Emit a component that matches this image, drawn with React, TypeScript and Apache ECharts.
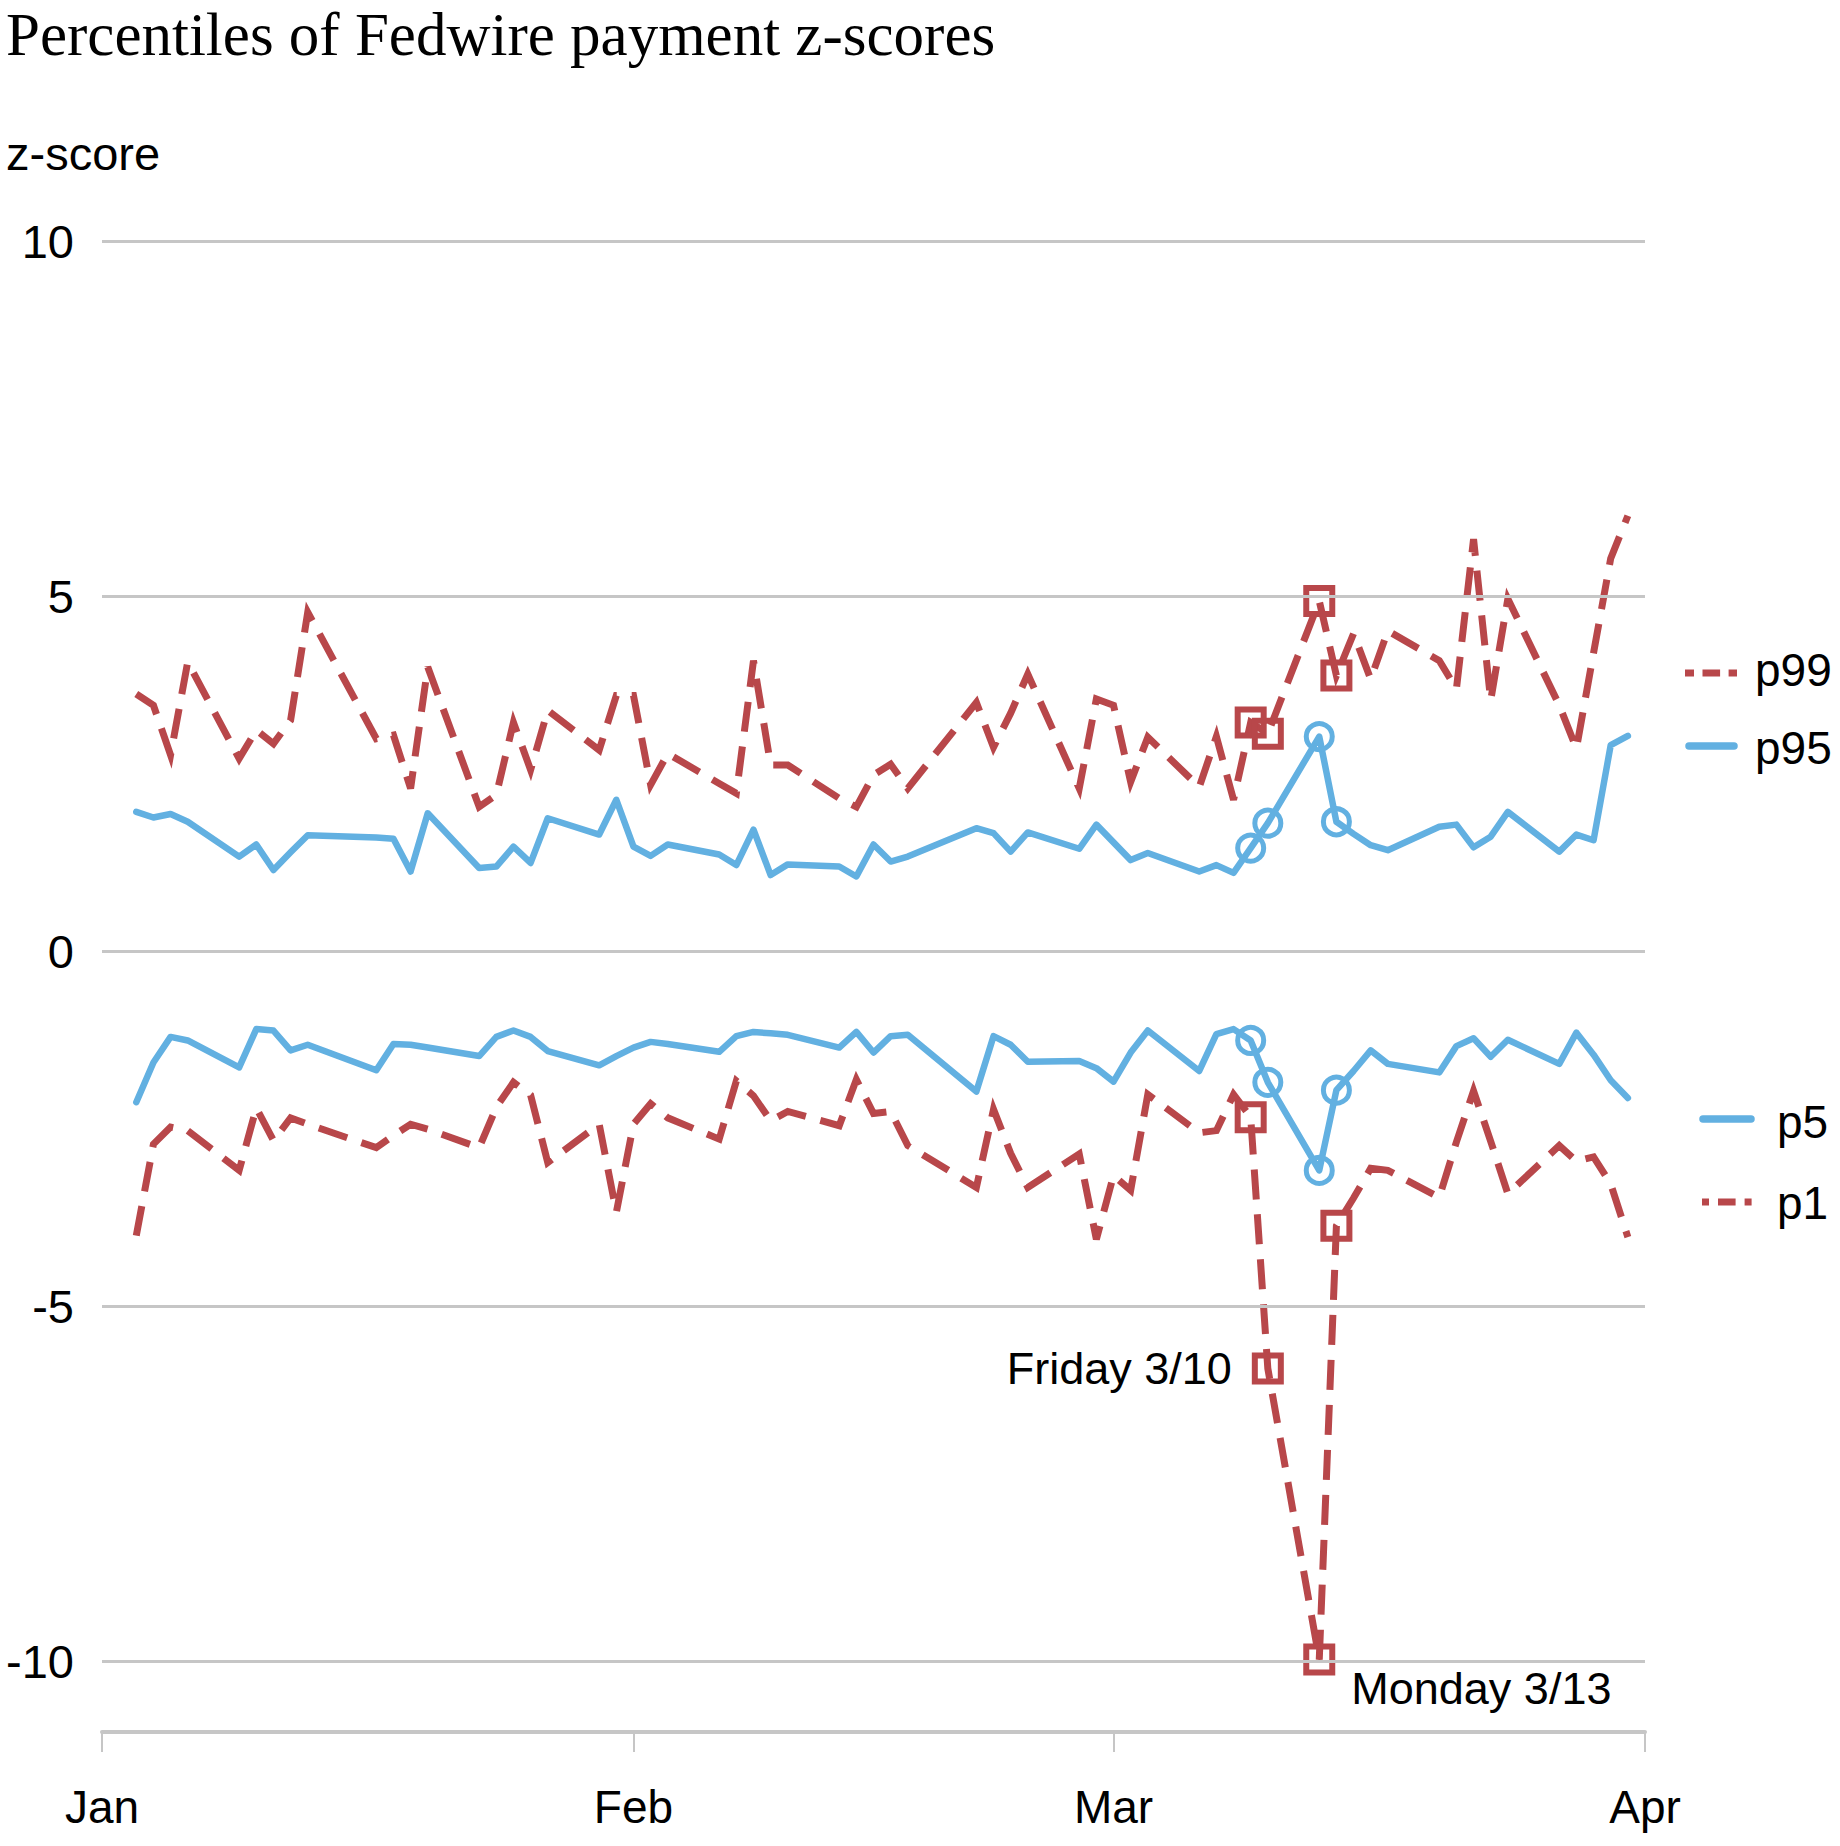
import React, { useEffect, useRef } from 'react';
import * as echarts from 'echarts';

// Business days, Q1 2023
const dates = [
  '2023-01-03', '2023-01-04', '2023-01-05', '2023-01-06', '2023-01-09', '2023-01-10', '2023-01-11', '2023-01-12', '2023-01-13',
  '2023-01-17', '2023-01-18', '2023-01-19', '2023-01-20', '2023-01-23', '2023-01-24', '2023-01-25', '2023-01-26', '2023-01-27',
  '2023-01-30', '2023-01-31',
  '2023-02-01', '2023-02-02', '2023-02-03', '2023-02-06', '2023-02-07', '2023-02-08', '2023-02-09', '2023-02-10',
  '2023-02-13', '2023-02-14', '2023-02-15', '2023-02-16', '2023-02-17', '2023-02-21', '2023-02-22', '2023-02-23', '2023-02-24',
  '2023-02-27', '2023-02-28',
  '2023-03-01', '2023-03-02', '2023-03-03', '2023-03-06', '2023-03-07', '2023-03-08', '2023-03-09', '2023-03-10',
  '2023-03-13', '2023-03-14', '2023-03-15', '2023-03-16', '2023-03-17', '2023-03-20', '2023-03-21', '2023-03-22', '2023-03-23',
  '2023-03-24', '2023-03-27', '2023-03-28', '2023-03-29', '2023-03-30', '2023-03-31',
];

const p99 = [
  3.62, 3.46, 2.76, 4.07, 2.71, 3.11, 2.92, 3.25, 4.77, 2.99, 3.04, 2.29, 4.0, 2.03, 2.2, 3.22, 2.55, 3.39, 2.83, 3.6,
  3.6, 2.34, 2.78, 2.36, 2.22, 4.09, 2.62, 2.62, 2.15, 2.03, 2.48, 2.63, 2.29, 3.5, 2.87, 3.35, 3.9, 2.29, 3.55,
  3.46, 2.38, 3.01, 2.31, 3.02, 2.13, 3.22, 3.06, 4.93, 3.88, 4.47, 3.83, 4.51, 4.09, 3.69, 5.8, 3.53, 4.96, 3.46, 2.85,
  4.2, 5.53, 6.13,
];

const p95 = [
  1.96, 1.88, 1.93, 1.82, 1.33, 1.5, 1.14, 1.39, 1.63, 1.6, 1.58, 1.12, 1.94, 1.17, 1.19, 1.47, 1.24, 1.87, 1.64, 2.13,
  1.47, 1.34, 1.5, 1.36, 1.21, 1.71, 1.07, 1.22, 1.19, 1.05, 1.5, 1.26, 1.33, 1.73, 1.66, 1.4, 1.67, 1.44, 1.78,
  1.53, 1.28, 1.38, 1.12, 1.21, 1.1, 1.45, 1.8, 3.02, 1.82, 1.65, 1.49, 1.42, 1.75, 1.78, 1.46, 1.61, 1.96, 1.4, 1.64,
  1.56, 2.9, 3.03,
];

const p5 = [
  -2.13, -1.57, -1.21, -1.26, -1.64, -1.1, -1.12, -1.4, -1.32, -1.68, -1.31, -1.32, -1.36, -1.48, -1.21, -1.12, -1.21, -1.41,
  -1.61, -1.48,
  -1.36, -1.28, -1.31, -1.42, -1.2, -1.14, -1.16, -1.18, -1.36, -1.14, -1.43, -1.2, -1.18, -1.98, -1.2, -1.32, -1.56, -1.55,
  -1.65,
  -1.84, -1.43, -1.12, -1.69, -1.17, -1.1, -1.26, -1.85, -3.09, -1.96, -1.69, -1.4, -1.59, -1.71, -1.34, -1.23, -1.49, -1.25,
  -1.59, -1.15, -1.46, -1.82, -2.07,
];

const p1 = [
  -4.01, -2.72, -2.48, -2.53, -3.09, -2.21, -2.67, -2.35, -2.44, -2.77, -2.6, -2.44, -2.51, -2.77, -2.2, -1.85, -2.03, -2.98,
  -2.44, -3.68,
  -2.44, -2.15, -2.35, -2.65, -1.83, -2.04, -2.39, -2.26, -2.46, -1.81, -2.29, -2.26, -2.74, -3.33, -2.23, -2.85, -3.33, -2.86,
  -4.06,
  -3.16, -3.37, -2.02, -2.56, -2.53, -2.02, -2.34, -5.88, -9.98, -3.87, -3.48, -3.06, -3.09, -3.47, -2.69, -1.97, -2.68, -3.42,
  -2.74, -2.96, -2.9, -3.28, -4.03,
];

const monthTicks = ['2023-01-01', '2023-02-01', '2023-03-01', '2023-04-01'];
const monthLabels = ['Jan', 'Feb', 'Mar', 'Apr'];
const yTicks = [10, 5, 0, -5, -10];
const markedDates = ['2023-03-09', '2023-03-10', '2023-03-13', '2023-03-14'];
const notes = [
  { date: '2023-03-10', text: 'Friday 3/10' },
  { date: '2023-03-13', text: 'Monday 3/13' },
];

const RED = '#B8474A';
const BLUE = '#62B0E1';
const GRID = '#C6C6C6';
const SANS = '"Liberation Sans", Arial, Helvetica, sans-serif';
const SERIF = '"Liberation Serif", "Times New Roman", serif';

// day offset from Jan 1 (UTC arithmetic to avoid DST issues)
function dayOf(s: string): number {
  const [y, m, d] = s.split('-').map(Number);
  return Math.round((Date.UTC(y, m - 1, d) - Date.UTC(2023, 0, 1)) / 86400000);
}

function buildData(vals: number[], red: boolean, withNotes: boolean) {
  return dates.map((d, i) => {
    const item: any = { value: [dayOf(d), vals[i]] };
    if (markedDates.includes(d)) {
      item.symbol = red ? 'rect' : 'circle';
      item.symbolSize = red ? 26 : 26;
      item.itemStyle = {
        color: 'rgba(0,0,0,0)',
        borderColor: red ? RED : BLUE,
        borderWidth: red ? 6 : 5,
      };
    }
    const note = withNotes ? notes.find((n) => n.date === d) : undefined;
    if (note) {
      const isLeft = note.text.startsWith('Friday');
      item.label = {
        show: true,
        formatter: note.text,
        position: isLeft ? 'left' : 'right',
        distance: isLeft ? 20 : 16,
        offset: isLeft ? [0, 0] : [0, 29],
        fontSize: 45,
        fontFamily: SANS,
        color: '#000',
      };
    }
    return item;
  });
}

export default function App() {
  const ref = useRef<HTMLDivElement>(null);

  useEffect(() => {
    document.body.style.margin = '0';
    if (!ref.current) return;
    const chart = echarts.init(ref.current, undefined, { renderer: 'svg' });
    const tickDays = monthTicks.map(dayOf);

    const redLine = (name: string, vals: number[], notesOn: boolean) => ({
      type: 'line',
      name,
      data: buildData(vals, true, notesOn),
      symbol: 'none',
      showSymbol: true,
      z: 4,
      lineStyle: { color: RED, width: 7, type: [30, 15], cap: 'butt', join: 'miter' },
      itemStyle: { color: RED },
      emphasis: { disabled: true },
    });
    const blueLine = (name: string, vals: number[]) => ({
      type: 'line',
      name,
      data: buildData(vals, false, false),
      symbol: 'none',
      showSymbol: true,
      z: 3,
      lineStyle: { color: BLUE, width: 6.5, join: 'round', cap: 'round' },
      itemStyle: { color: BLUE },
      emphasis: { disabled: true },
    });

    const legendItems = [
      { name: 'p99', red: true, x1: 1685, x2: 1737, ly: 673, tx: 1755, ty: 670, dash: [9, 8.5, 17.6, 8.5] },
      { name: 'p95', red: false, x1: 1689, x2: 1734, ly: 746, tx: 1755, ty: 748, dash: null },
      { name: 'p5', red: false, x1: 1703, x2: 1751, ly: 1119, tx: 1777, ty: 1122, dash: null },
      { name: 'p1', red: true, x1: 1702, x2: 1753, ly: 1202, tx: 1777, ty: 1203, dash: [7, 9, 17.6, 9] },
    ];

    const graphic: any[] = [
      {
        type: 'text',
        x: 6,
        y: 34,
        style: {
          text: 'Percentiles of Fedwire payment z-scores',
          font: `61px ${SERIF}`,
          fill: '#000',
          textVerticalAlign: 'middle',
          verticalAlign: 'middle',
        },
      },
      {
        type: 'text',
        x: 6,
        y: 153,
        style: {
          text: 'z-score',
          font: `47px ${SANS}`,
          fill: '#000',
          textVerticalAlign: 'middle',
          verticalAlign: 'middle',
        },
      },
    ];
    legendItems.forEach((it) => {
      const lineStyle: any = {
        stroke: it.red ? RED : BLUE,
        lineWidth: it.red ? 7 : 7.5,
        lineCap: it.red ? 'butt' : 'round',
      };
      if (it.dash) lineStyle.lineDash = it.dash;
      graphic.push({
        type: 'line',
        shape: { x1: it.x1, y1: it.ly, x2: it.x2, y2: it.ly },
        style: lineStyle,
      });
      graphic.push({
        type: 'text',
        x: it.tx,
        y: it.ty,
        style: {
          text: it.name,
          font: `46px ${SANS}`,
          fill: '#000',
          textVerticalAlign: 'middle',
          verticalAlign: 'middle',
        },
      });
    });

    chart.setOption({
      animation: false,
      backgroundColor: '#fff',
      grid: { left: 102, right: 195, top: 241, bottom: 114, containLabel: false, outerBoundsMode: 'none' },
      xAxis: {
        type: 'value',
        min: tickDays[0],
        max: tickDays[tickDays.length - 1],
        splitLine: { show: false },
        axisLine: { show: true, onZero: false, lineStyle: { color: GRID, width: 4 } },
        axisTick: { show: true, length: 20, lineStyle: { color: GRID, width: 2 }, customValues: tickDays },
        axisLabel: {
          customValues: tickDays,
          formatter: (v: number) => {
            const i = tickDays.indexOf(v);
            return i >= 0 ? monthLabels[i] : '';
          },
          fontSize: 46,
          fontFamily: SANS,
          color: '#000',
          margin: 52,
        },
      },
      yAxis: {
        type: 'value',
        min: -11,
        max: 10,
        interval: 1,
        splitLine: { show: false },
        axisLine: { show: false },
        axisTick: { show: false },
        axisLabel: {
          customValues: yTicks,
          formatter: (v: number) => (yTicks.includes(v) ? String(v) : ''),
          fontSize: 47,
          fontFamily: SANS,
          color: '#000',
          margin: 28,
        },
      },
      graphic,
      series: [
        {
          type: 'line',
          name: 'grid',
          data: [],
          z: 1,
          silent: true,
          markLine: {
            silent: true,
            symbol: ['none', 'none'],
            label: { show: false },
            lineStyle: { color: GRID, width: 3, type: 'solid' },
            emphasis: { disabled: true },
            data: yTicks.map((v) => ({ yAxis: v })),
          },
        },
        blueLine('p95', p95),
        blueLine('p5', p5),
        redLine('p99', p99, false),
        redLine('p1', p1, true),
      ],
    });

    return () => {
      chart.dispose();
    };
  }, []);

  return <div ref={ref} style={{ width: 1840, height: 1846 }} />;
}
